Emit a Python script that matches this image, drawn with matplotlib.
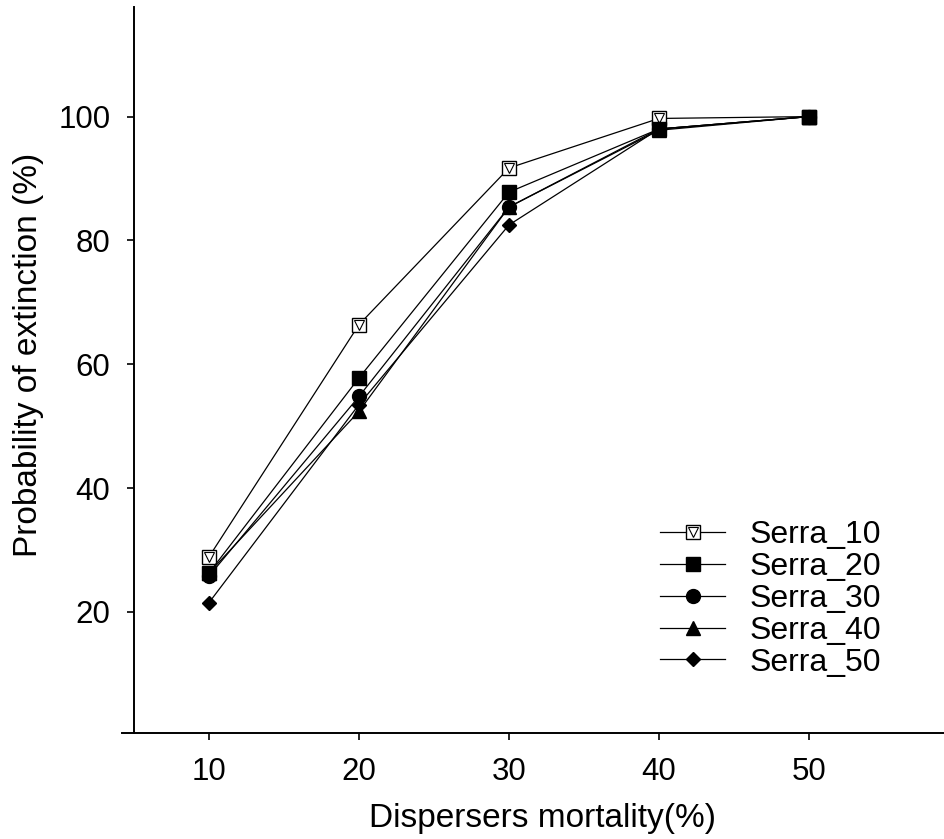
import matplotlib
matplotlib.use("Agg")
import matplotlib.pyplot as plt
from matplotlib.legend_handler import HandlerTuple

plt.rcParams['font.family'] = ['Liberation Sans', 'DejaVu Sans']

mortality = [10, 20, 30, 40, 50]
serra_10 = [28.9, 66.4, 91.7, 99.7, 100.0]
serra_20 = [26.3, 57.8, 87.8, 98.0, 100.0]
serra_30 = [25.8, 54.8, 85.4, 98.0, 100.0]
serra_40 = [26.3, 52.4, 85.4, 97.8, 100.0]
serra_50 = [21.5, 53.5, 82.5, 98.0, 100.0]
labels = ["Serra_10", "Serra_20", "Serra_30", "Serra_40", "Serra_50"]

fig = plt.figure(figsize=(9.45, 8.39), dpi=100)
W, H = 945, 839
left_px, right_px, top_px, bottom_px = 122, 945, 7, 733
ax = fig.add_axes([left_px / W, 1 - bottom_px / H, (right_px - left_px) / W, (bottom_px - top_px) / H])

lw = 0.9
ms = 10
k = 'black'
l10a, = ax.plot(mortality, serra_10, color=k, lw=lw, marker='s', ms=ms, mfc='white', mec=k, mew=1.0, zorder=2)
l10b, = ax.plot(mortality, serra_10, color=k, lw=0, marker='v', ms=6.5, mfc='white', mec=k, mew=0.8, zorder=2.1)
l50, = ax.plot(mortality, serra_50, color=k, lw=lw, marker='D', ms=7, mfc=k, mec=k, zorder=3)
l40, = ax.plot(mortality, serra_40, color=k, lw=lw, marker='^', ms=ms, mfc=k, mec=k, zorder=3)
l30, = ax.plot(mortality, serra_30, color=k, lw=lw, marker='o', ms=ms, mfc=k, mec=k, zorder=3)
l20, = ax.plot(mortality, serra_20, color=k, lw=lw, marker='s', ms=ms, mfc=k, mec=k, zorder=3)

ax.set_xlim(4.2, 59.07)
ax.set_ylim(0.45, 117.7)
for s in ['top', 'right']:
    ax.spines[s].set_visible(False)
ax.spines['left'].set_position(('data', 5.0))
ax.spines['left'].set_linewidth(1.4)
ax.spines['bottom'].set_linewidth(1.4)

ax.set_xticks(mortality)
ax.set_yticks([20, 40, 60, 80, 100])
ax.tick_params(direction='out', length=5, width=1.2, labelsize=22.5, pad=12)

ax.set_xlabel("Dispersers mortality(%)", fontsize=24)
ax.set_ylabel("Probability of extinction (%)", fontsize=24)
ax.xaxis.set_label_coords((543 - left_px) / (right_px - left_px), (bottom_px - 803) / (bottom_px - top_px))
ax.yaxis.set_label_coords((44 - left_px) / (right_px - left_px), (bottom_px - 355) / (bottom_px - top_px))

leg = ax.legend([(l10a, l10b), l20, l30, l40, l50], labels,
                handler_map={tuple: HandlerTuple(ndivide=1)},
                loc='upper left', bbox_to_anchor=(660 / W, 1 - 520 / H),
                bbox_transform=fig.transFigure, frameon=False, fontsize=23,
                handlelength=2.05, handletextpad=0.75, labelspacing=0.06,
                borderpad=0, borderaxespad=0)

fig.savefig("out.png", dpi=100)
